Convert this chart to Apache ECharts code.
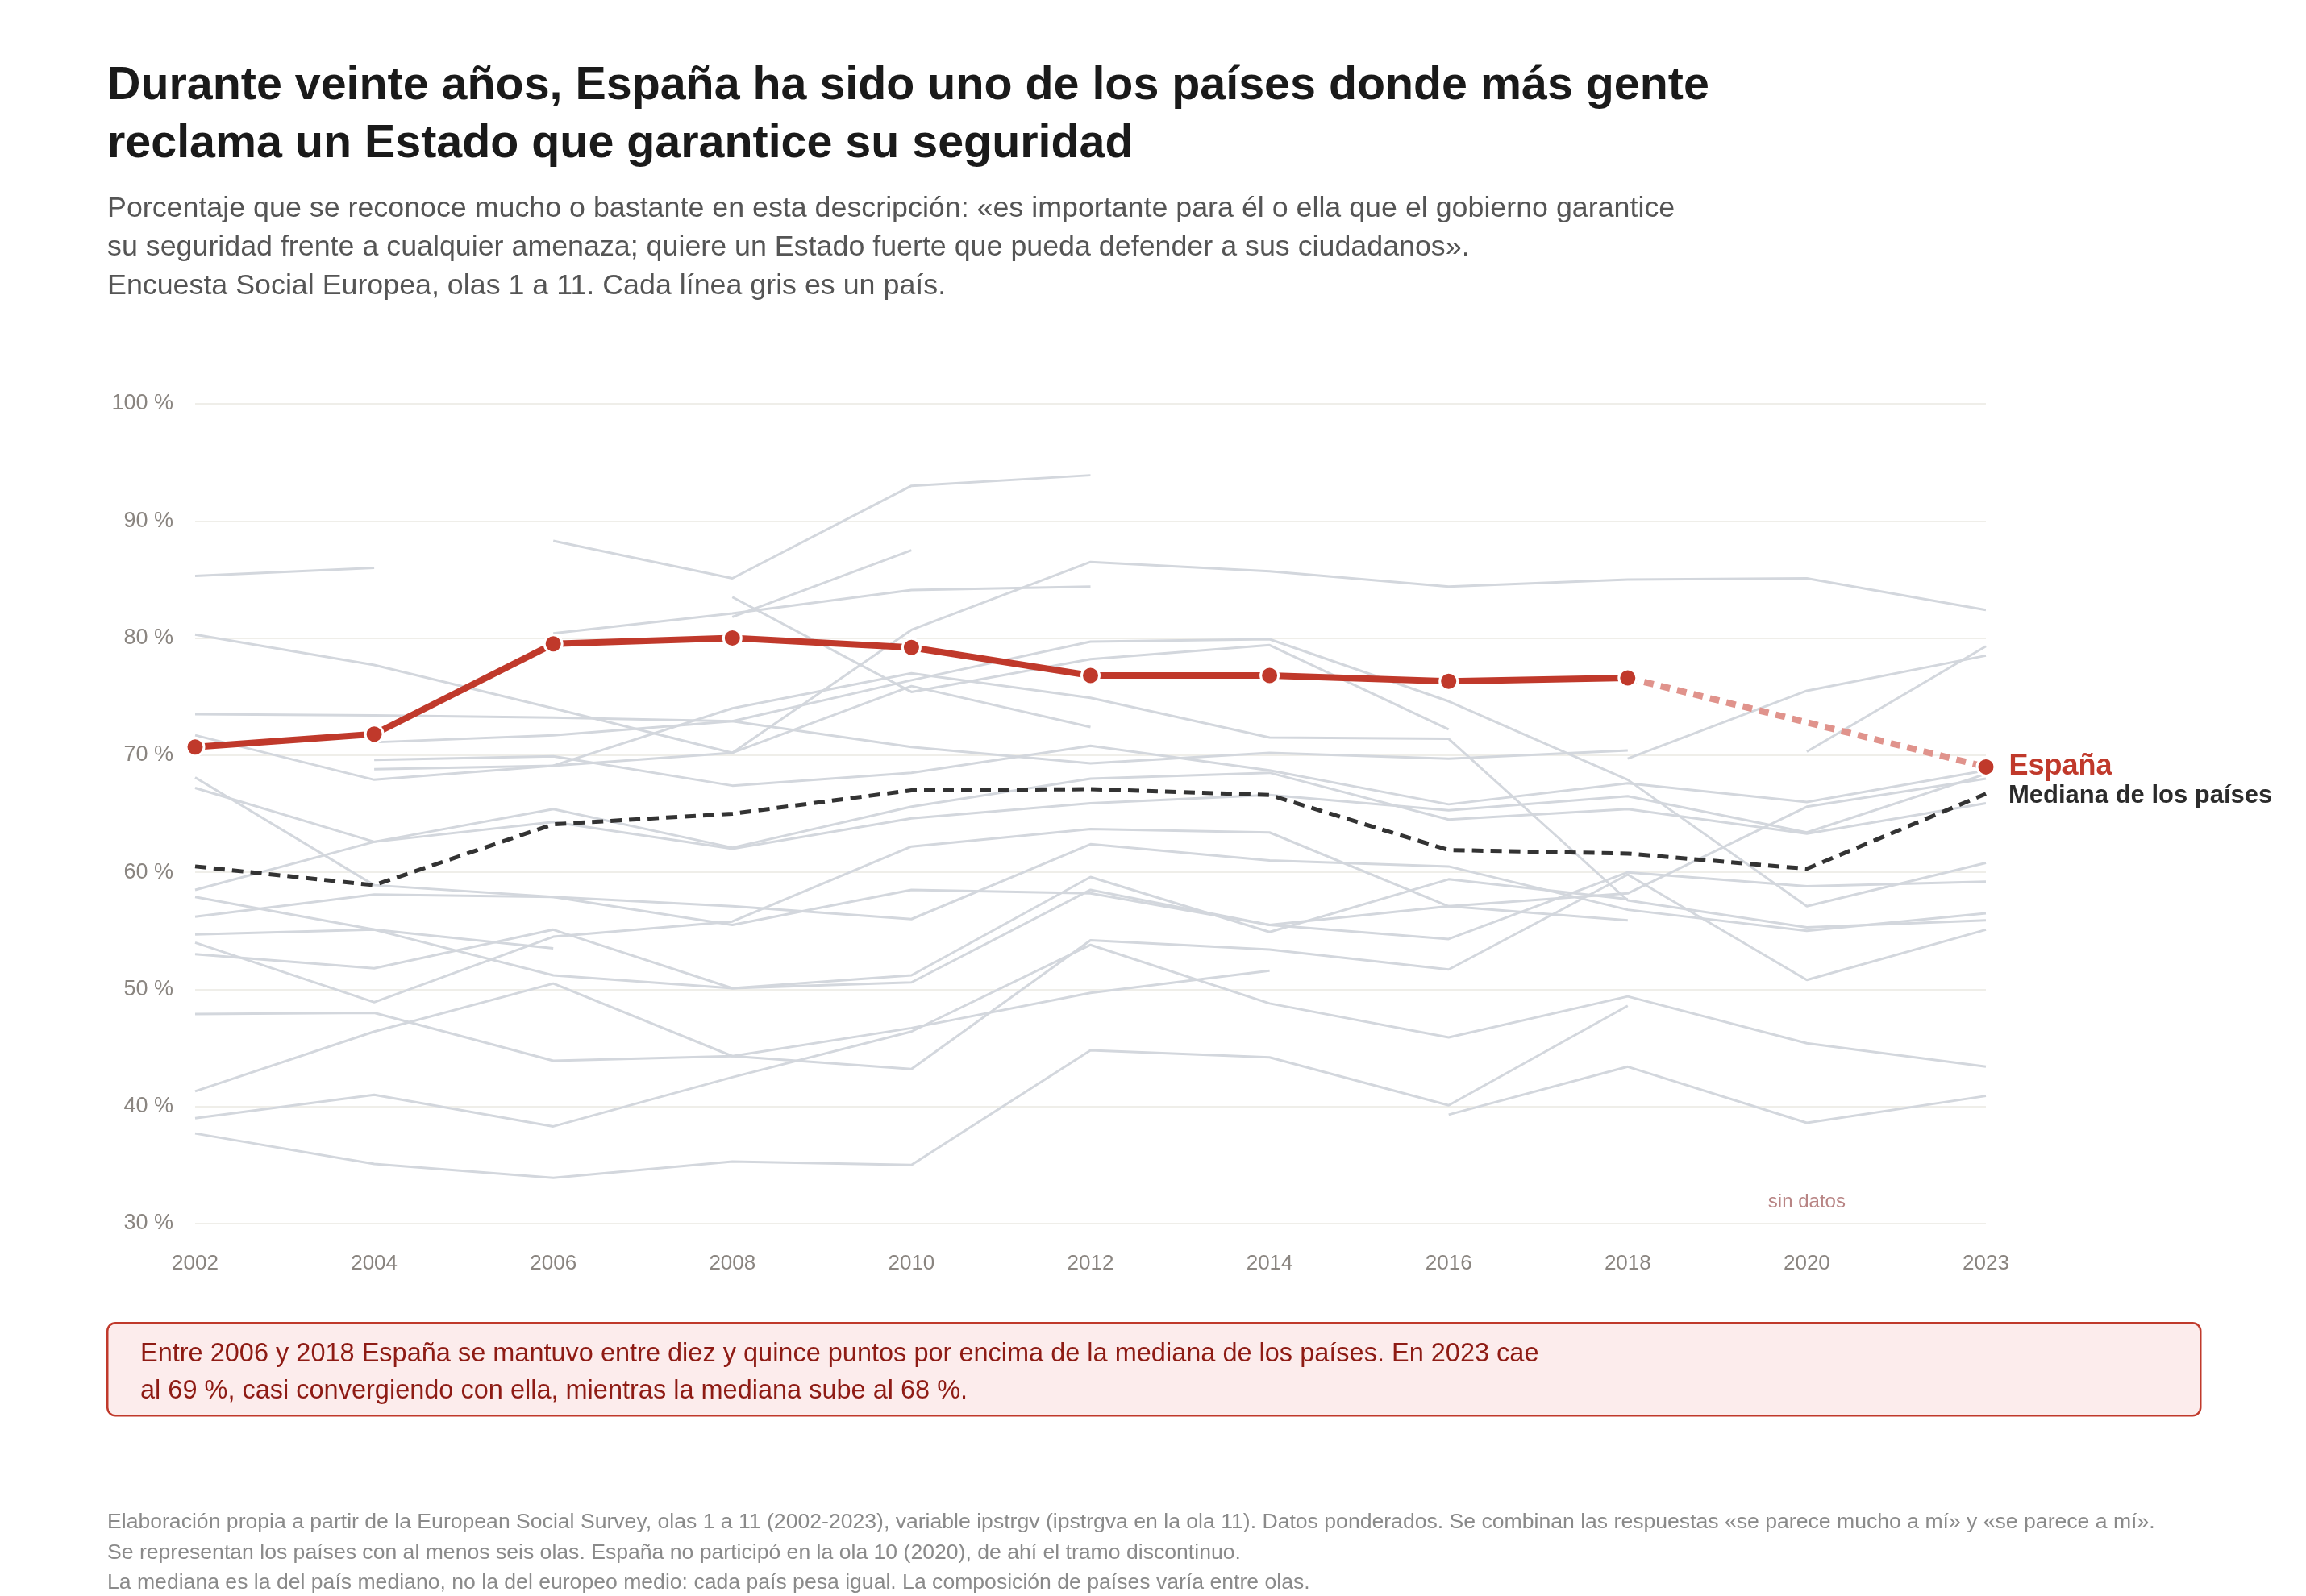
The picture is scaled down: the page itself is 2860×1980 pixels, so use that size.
<!DOCTYPE html>
<html>
<head>
<meta charset="utf-8">
<script src="https://cdn.jsdelivr.net/npm/echarts@6/dist/echarts.min.js"></script>
<style>
  html, body { margin: 0; padding: 0; background: #ffffff; }
  #chart { width: 2860px; height: 1980px; }
</style>
</head>
<body>
<div id="chart"></div>
<script>
var years = ['2002', '2004', '2006', '2008', '2010', '2012', '2014', '2016', '2018', '2020', '2023'];
var yTicks = [30, 40, 50, 60, 70, 80, 90, 100];

// España: no participó en la ola 10 (2020)
var spain = [70.7, 71.8, 79.5, 80.0, 79.2, 76.8, 76.8, 76.3, 76.6, null, 69.0];
var median = [60.5, 58.9, 64.1, 65.0, 67.0, 67.1, 66.6, 61.9, 61.6, 60.3, 66.7];

// Una línea gris por país (null = sin dato en esa ola)
var n = null;
var countries = [
    [85.3, 86.0, n, n, n, n, n, n, n, n, n],
    [80.3, 77.7, 74.0, 70.2, 80.7, 86.5, 85.7, 84.4, 85.0, 85.1, 82.4],
    [n, n, 88.3, 85.1, 93.0, 93.9, n, n, n, n, n],
    [n, n, 80.4, 82.1, 84.1, 84.4, n, n, n, n, n],
    [n, n, n, 81.8, 87.5, n, n, n, n, n, n],
    [n, n, n, 83.5, 75.4, 78.2, 79.4, 72.2, n, n, n],
    [n, 68.8, 69.1, 74.0, 77.0, 74.9, 71.5, 71.4, 57.6, 55.3, 55.9],
    [73.5, 73.4, 73.2, 72.9, 70.7, 69.3, 70.2, 69.7, 70.4, n, n],
    [n, n, n, n, n, n, n, n, 69.7, 75.5, 78.5],
    [n, n, n, n, n, n, n, n, n, 70.3, 79.3],
    [71.7, 67.9, 69.1, 70.2, 75.9, 72.4, n, n, n, n, n],
    [n, 71.1, 71.7, 72.9, 76.4, 79.7, 79.9, 74.6, 67.9, 57.1, 60.8],
    [n, 69.6, 69.9, 67.4, 68.5, 70.8, 68.7, 65.8, 67.6, 66.0, 68.7],
    [68.1, 58.9, 57.9, 55.5, 58.5, 58.2, 55.5, 54.3, 60.0, 58.8, 59.2],
    [56.2, 58.1, 57.9, 57.1, 56.0, 62.4, 61.0, 60.5, 56.8, 55.0, 56.5],
    [57.9, 55.1, 51.2, 50.1, 50.6, 58.5, 55.5, 57.1, 58.2, 65.6, 68.0],
    [58.5, 62.6, 65.4, 62.1, 65.6, 68.0, 68.5, 64.5, 65.4, 63.3, 65.9],
    [67.2, 62.6, 64.3, 62.0, 64.6, 65.9, 66.6, 65.3, 66.5, 63.4, 68.4],
    [53.0, 51.8, 55.1, 50.1, 51.2, 59.6, 54.9, 59.4, 57.7, n, n],
    [54.0, 48.9, 54.5, 55.8, 62.2, 63.7, 63.4, 57.1, 55.9, n, n],
    [54.7, 55.1, 53.5, n, n, n, n, n, n, n, n],
    [47.9, 48.0, 43.9, 44.3, 46.7, 49.7, 51.6, n, n, n, n],
    [41.3, 46.4, 50.5, 44.3, 43.2, 54.2, 53.4, 51.7, 59.8, 50.8, 55.1],
    [39.0, 41.0, 38.3, 42.5, 46.4, 53.8, 48.8, 45.9, 49.4, 45.4, 43.4],
    [37.7, 35.1, 33.9, 35.3, 35.0, 44.8, 44.2, 40.1, 48.6, n, n],
    [n, n, n, n, n, n, n, 39.3, 43.4, 38.6, 40.9]
];

var RED = '#c0392b';
var FONT = '"Liberation Sans", Arial, sans-serif';

var chart = echarts.init(document.getElementById('chart'));

// tramo discontinuo de España entre 2018 y 2023
var spainGap = spain.map(function (v, i) {
    return (i >= 8) ? v : null;
});
var spainSolid = spain.map(function (v, i) {
    return (i <= 8) ? v : null;
});

var series = [];
countries.forEach(function (c, i) {
    series.push({
        name: 'pais' + i,
        type: 'line',
        data: c,
        symbol: 'none',
        silent: true,
        connectNulls: false,
        z: 1,
        lineStyle: { color: '#d3d7dd', width: 3 }
    });
});

series.push({
    name: 'Mediana',
    type: 'line',
    data: median,
    symbol: 'none',
    z: 3,
    lineStyle: { color: '#333333', width: 5, type: [14, 9] },
    endLabel: {
        show: true,
        formatter: 'Mediana de los países',
        distance: 28,
        offset: [0, 3],
        color: '#2b2b2b', fontSize: 31, fontWeight: 'bold', fontFamily: FONT
    }
});

series.push({
    name: 'EspañaGap',
    type: 'line',
    data: spainGap,
    connectNulls: true,
    symbol: 'none',
    z: 4,
    lineStyle: { color: '#e0938c', width: 8, type: [12, 9] }
});

series.push({
    name: 'España',
    type: 'line',
    data: spainSolid,
    symbol: 'circle',
    symbolSize: 22,
    z: 5,
    itemStyle: { color: RED, borderColor: '#ffffff', borderWidth: 3 },
    lineStyle: { color: RED, width: 8 }
});

series.push({
    name: 'España2023',
    type: 'line',
    data: spain.map(function (v, i) {
        if (i === spain.length - 1) {
            return {
                value: v,
                label: {
                    show: true, position: 'right', distance: 16,
                    formatter: 'España',
                    color: RED, fontSize: 36, fontWeight: 'bold', fontFamily: FONT
                }
            };
        }
        return null;
    }),
    symbol: 'circle',
    symbolSize: 22,
    z: 6,
    itemStyle: { color: RED, borderColor: '#ffffff', borderWidth: 3 },
    lineStyle: { width: 0 }
});

var option = {
    backgroundColor: '#ffffff',
    animation: false,
    textStyle: { fontFamily: FONT },
    grid: { left: 242, right: 397, top: 501, bottom: 462, containLabel: false },
    xAxis: {
        type: 'category',
        data: years,
        boundaryGap: false,
        axisLine: { show: false },
        axisTick: { show: false },
        axisLabel: { color: '#8a8580', fontSize: 26, margin: 37, fontFamily: FONT },
        splitLine: { show: false }
    },
    yAxis: {
        type: 'value',
        min: yTicks[0],
        max: yTicks[yTicks.length - 1],
        interval: 10,
        axisLine: { show: false },
        axisTick: { show: false },
        axisLabel: { color: '#8a8580', fontSize: 27, margin: 27, formatter: '{value} %', fontFamily: FONT },
        splitLine: { lineStyle: { color: '#efeee9', width: 2 } }
    },
    graphic: [
        {
            type: 'text', left: 133, top: 71,
            style: {
                text: 'Durante veinte años, España ha sido uno de los países donde más gente\nreclama un Estado que garantice su seguridad',
                fill: '#1a1a1a', font: 'bold 57.4px ' + FONT, lineHeight: 72
            }
        },
        {
            type: 'text', left: 133, top: 235,
            style: {
                text: 'Porcentaje que se reconoce mucho o bastante en esta descripción: «es importante para él o ella que el gobierno garantice\nsu seguridad frente a cualquier amenaza; quiere un Estado fuerte que pueda defender a sus ciudadanos».\nEncuesta Social Europea, olas 1 a 11. Cada línea gris es un país.',
                fill: '#555555', font: '35.8px ' + FONT, lineHeight: 48
            }
        },
        {
            type: 'rect', left: 132, top: 1640,
            shape: { width: 2596, height: 115, r: 10 },
            style: { fill: '#fcecec', stroke: RED, lineWidth: 2.5 }
        },
        {
            type: 'text', left: 174, top: 1657,
            style: {
                text: 'Entre 2006 y 2018 España se mantuvo entre diez y quince puntos por encima de la mediana de los países. En 2023 cae\nal 69 %, casi convergiendo con ella, mientras la mediana sube al 68 %.',
                fill: '#8e1b14', font: '32.5px ' + FONT, lineHeight: 46
            }
        },
        {
            type: 'text', left: 133, top: 1870,
            style: {
                text: 'Elaboración propia a partir de la European Social Survey, olas 1 a 11 (2002-2023), variable ipstrgv (ipstrgva en la ola 11). Datos ponderados. Se combinan las respuestas «se parece mucho a mí» y «se parece a mí».\nSe representan los países con al menos seis olas. España no participó en la ola 10 (2020), de ahí el tramo discontinuo.\nLa mediana es la del país mediano, no la del europeo medio: cada país pesa igual. La composición de países varía entre olas.',
                fill: '#8a8a8a', font: '26.6px ' + FONT, lineHeight: 37.5
            }
        }
    ],
    series: series
};

chart.setOption(option);

// etiqueta «sin datos» sobre la ola 2020
var p = chart.convertToPixel({ xAxisIndex: 0, yAxisIndex: 0 }, ['2020', 31.8]);
chart.setOption({
    graphic: [{
        id: 'sindatos', type: 'text', x: p[0], y: p[1],
        style: {
            text: 'sin datos', fill: '#b88484', font: '24px ' + FONT,
            align: 'center', verticalAlign: 'middle'
        }
    }]
});
</script>
</body>
</html>
